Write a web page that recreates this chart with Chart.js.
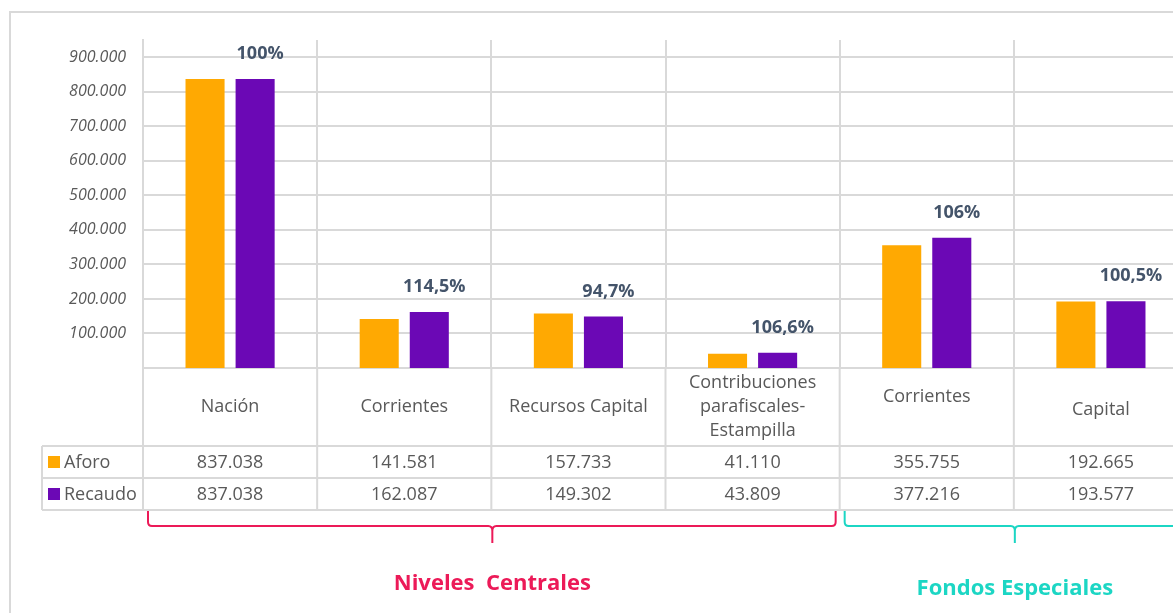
<!DOCTYPE html>
<html>
<head>
<meta charset="utf-8">
<script src="https://cdn.jsdelivr.net/npm/chart.js@4.4.1/dist/chart.umd.min.js"></script>
<style>
  html, body { margin: 0; padding: 0; background: #fff; }
  #wrap { width: 1173px; height: 613px; overflow: hidden; position: relative; }
</style>
</head>
<body>
<div id="wrap"><canvas id="chart" width="1200" height="613"></canvas></div>
<script>
// data
const categories = ['Nación', 'Corrientes', 'Recursos Capital', ['Contribuciones', 'parafiscales-', 'Estampilla'], 'Corrientes', 'Capital'];
const aforo = [837038, 141581, 157733, 41110, 355755, 192665];
const recaudo = [837038, 162087, 149302, 43809, 377216, 193577];
const pctLabels = ['100%', '114,5%', '94,7%', '106,6%', '106%', '100,5%'];
const yTicks = [100000, 200000, 300000, 400000, 500000, 600000, 700000, 800000, 900000];
const groupNames = ['Niveles  Centrales', 'Fondos Especiales'];
const groupSpans = [[0, 3], [4, 5]];

const FONT = '"Open Sans", "Noto Sans", sans-serif';
const ORANGE = '#FFA902';
const PURPLE = '#6B08B5';
const GRID = '#d9d9d9';
const TEXT = '#595959';
const groupColors = ['#EC1A58', '#1CD6C4'];

function fmt(v) {
    return String(v).replace(/\B(?=(\d{3})+(?!\d))/g, '.');
}

const tablePlugin = {
    id: 'tablePlugin',
    afterDraw(chart) {
        const ctx = chart.ctx;
        const area = chart.chartArea;
        const xs = chart.scales.x;
        const n = categories.length;
        const step = (area.right - area.left) / n;
        const labelTop = area.bottom;
        const rowTop = 446, rowH = 32, tableBottom = rowTop + rowH * 2;
        const tableLeft = 42;

        ctx.save();
        // outer frame
        ctx.strokeStyle = GRID;
        ctx.lineWidth = 2;
        ctx.strokeRect(10, 12, 1300, 800);

        // grid of the data table
        ctx.beginPath();
        for (let i = 0; i <= n; i++) {
            const x = area.left + step * i;
            ctx.moveTo(x, labelTop);
            ctx.lineTo(x, tableBottom);
        }
        ctx.moveTo(tableLeft, rowTop);
        ctx.lineTo(tableLeft, tableBottom);
        for (let r = 0; r <= 2; r++) {
            ctx.moveTo(tableLeft, rowTop + rowH * r);
            ctx.lineTo(area.right + 20, rowTop + rowH * r);
        }
        ctx.stroke();

        // category labels (the Fondos ones sit a little off centre in the original)
        ctx.fillStyle = TEXT;
        ctx.font = '18px ' + FONT;
        ctx.textAlign = 'center';
        ctx.textBaseline = 'middle';
        const nudge = [0, 0, 0, 0, -10, 3];
        categories.forEach((c, i) => {
            const lines = Array.isArray(c) ? c : [c];
            const cx = xs.getPixelForValue(i);
            const mid = (labelTop + rowTop) / 2 + nudge[i];
            lines.forEach((t, k) => {
                ctx.fillText(t, cx, mid + (k - (lines.length - 1) / 2) * 24);
            });
        });

        // table values
        [aforo, recaudo].forEach((arr, r) => {
            arr.forEach((v, i) => {
                ctx.fillText(fmt(v), xs.getPixelForValue(i), rowTop + rowH * r + rowH / 2 + 1);
            });
        });

        // legend keys in the table
        ctx.textAlign = 'left';
        chart.data.datasets.forEach((ds, r) => {
            const cy = rowTop + rowH * r + rowH / 2;
            ctx.fillStyle = ds.backgroundColor;
            ctx.fillRect(48, cy - 6, 12, 12);
            ctx.fillStyle = TEXT;
            ctx.fillText(ds.label, 64, cy + 1);
        });

        // percentage labels over the Recaudo bars
        const meta = chart.getDatasetMeta(1);
        ctx.fillStyle = '#44546A';
        ctx.font = 'bold 18px ' + FONT;
        ctx.textAlign = 'center';
        meta.data.forEach((bar, i) => {
            ctx.fillText(pctLabels[i], bar.x + 5, bar.y - 25);
        });

        // braces and group names
        groupSpans.forEach((span, g) => {
            const x0 = area.left + step * span[0] + 5;
            const x1 = area.left + step * (span[1] + 1) - 4;
            const tip = (x0 + x1) / 2 + 0.5;
            const yTop = tableBottom + 1, yMid = yTop + 15, yTip = yTop + 32;
            ctx.strokeStyle = groupColors[g];
            ctx.lineWidth = 2;
            ctx.beginPath();
            ctx.moveTo(x0, yTop);
            ctx.lineTo(x0, yMid - 4);
            ctx.quadraticCurveTo(x0, yMid, x0 + 4, yMid);
            ctx.lineTo(tip - 4, yMid);
            ctx.quadraticCurveTo(tip, yMid, tip, yMid + 5);
            ctx.quadraticCurveTo(tip, yMid, tip + 4, yMid);
            ctx.lineTo(x1 - 4, yMid);
            ctx.quadraticCurveTo(x1, yMid, x1, yMid - 4);
            ctx.lineTo(x1, yTop);
            ctx.moveTo(tip, yMid + 2);
            ctx.lineTo(tip, yTip);
            ctx.stroke();

            ctx.fillStyle = groupColors[g];
            ctx.font = 'bold 22px ' + FONT;
            ctx.fillText(groupNames[g], tip, 584 + g * 5);
        });
        ctx.restore();
    }
};

new Chart(document.getElementById('chart'), {
    type: 'bar',
    data: {
        labels: categories,
        datasets: [
            { label: 'Aforo', data: aforo, backgroundColor: ORANGE },
            { label: 'Recaudo', data: recaudo, backgroundColor: PURPLE }
        ]
    },
    options: {
        responsive: false,
        animation: false,
        categoryPercentage: 0.575,
        barPercentage: 0.78,
        layout: { padding: { top: 40, left: 0, right: 12, bottom: 103 } },
        plugins: { legend: { display: false }, tooltip: { enabled: false } },
        scales: {
            x: {
                grid: { color: GRID, lineWidth: 2, drawTicks: false, offset: true },
                border: { color: GRID, width: 2 },
                ticks: { display: false },
                afterFit: s => { s.height = 142; }
            },
            y: {
                min: 0,
                max: 950000,
                afterBuildTicks: s => { s.ticks = yTicks.map(v => ({ value: v })); },
                grid: { color: GRID, lineWidth: 2, drawTicks: false },
                border: { color: GRID, width: 2 },
                ticks: {
                    padding: 17,
                    color: TEXT,
                    font: { family: FONT, size: 16, style: 'italic' },
                    callback: v => fmt(v)
                },
                afterFit: s => { s.width = 143; }
            }
        }
    },
    plugins: [tablePlugin]
});
</script>
</body>
</html>
